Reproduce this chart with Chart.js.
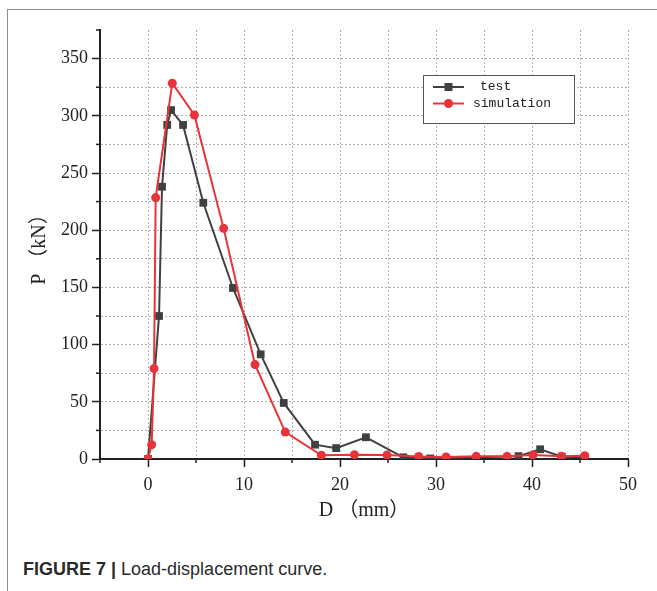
<!DOCTYPE html>
<html>
<head>
<meta charset="utf-8">
<script src="https://cdn.jsdelivr.net/npm/chart.js@4.4.1/dist/chart.umd.min.js"></script>
<style>
  body { margin: 0; background: #fff; }
  #frame {
    position: absolute; left: 7px; top: 9px; width: 660px; height: 600px;
    border-left: 1.5px solid #8c8c8c; border-top: 1.5px solid #8c8c8c;
  }
  #wrap { position: absolute; left: 0; top: 0; width: 657px; height: 545px; }
  #caption {
    position: absolute; left: 23px; top: 559px;
    font: 18px "Liberation Sans", Arial, sans-serif; color: #2a2a2a;
  }
  #caption b { font-weight: bold; }
</style>
</head>
<body>
<div id="frame"></div>
<div id="wrap"><canvas id="chart-load" width="657" height="545"></canvas></div>
<div id="caption"><b>FIGURE 7 |</b> Load-displacement curve.</div>
<script>
// test curve, D (mm) / P (kN)
const testD = [0, 1.15, 1.46, 2.0, 2.4, 3.65, 5.76, 8.85, 11.74, 14.14, 17.4, 19.6, 22.7, 26.6, 29.4, 38.6, 40.85, 43.1, 45.5];
const testP = [0, 125, 238, 292, 305, 292, 224, 149.5, 91.5, 49, 12.5, 9.5, 19, 1.5, 0.5, 2.5, 8.5, 2, 1.5];

// simulation curve
const simD = [0, 0.38, 0.63, 0.8, 2.53, 4.83, 7.88, 11.15, 14.3, 18.06, 21.5, 24.9, 28.2, 31.05, 34.2, 37.4, 40.1, 43.06, 45.5];
const simP = [0, 12.5, 79, 228.5, 328.5, 300.7, 201.6, 82.5, 23.5, 3.3, 3.8, 3.5, 2.2, 1.8, 2.3, 2.3, 3.6, 2.5, 2.8];

const seriesNames = ['test', 'simulation'];
const xLabels = [0, 10, 20, 30, 40, 50];
const yLabels = [0, 50, 100, 150, 200, 250, 300, 350];

const toPoints = (xs, ys) => xs.map((x, i) => ({ x: x, y: ys[i] }));

const tickFont = { family: '"Liberation Serif", "Times New Roman", serif', size: 18 };
const titleFont = { family: '"Liberation Serif", "Noto Sans CJK SC", serif', size: 20 };

// short minor ticks (every 5 mm / 25 kN)
const minorTicks = {
  id: 'minorTicks',
  beforeDatasetsDraw(chart) {
    const ctx = chart.ctx;
    const { x, y } = chart.scales;
    ctx.save();
    ctx.strokeStyle = '#222';
    ctx.lineWidth = 1.5;
    x.ticks.forEach(t => {
      if (xLabels.includes(t.value)) return;
      const px = x.getPixelForValue(t.value);
      ctx.beginPath(); ctx.moveTo(px, y.bottom); ctx.lineTo(px, y.bottom + 4); ctx.stroke();
    });
    y.ticks.forEach(t => {
      if (yLabels.includes(t.value)) return;
      const py = y.getPixelForValue(t.value);
      ctx.beginPath(); ctx.moveTo(x.left, py); ctx.lineTo(x.left - 4, py); ctx.stroke();
    });
    ctx.restore();
  }
};

// boxed legend inside the plot, like the Origin one
const boxLegend = {
  id: 'boxLegend',
  afterDatasetsDraw(chart) {
    const ctx = chart.ctx;
    ctx.save();
    ctx.fillStyle = '#fff';
    ctx.fillRect(423, 75, 151, 48);
    ctx.strokeStyle = '#555';
    ctx.lineWidth = 1;
    ctx.strokeRect(423.5, 75.5, 151, 48);
    ctx.font = '13px "Liberation Mono", "DejaVu Sans Mono", monospace';
    ctx.textBaseline = 'middle';
    chart.data.datasets.forEach((ds, i) => {
      const cy = 87 + i * 16.5;
      ctx.strokeStyle = ds.borderColor;
      ctx.lineWidth = 2;
      ctx.beginPath(); ctx.moveTo(433, cy); ctx.lineTo(464, cy); ctx.stroke();
      ctx.fillStyle = ds.backgroundColor;
      if (ds.pointStyle === 'rect') {
        ctx.fillRect(444.5, cy - 4, 8, 8);
      } else {
        ctx.beginPath(); ctx.arc(448.5, cy, 4.5, 0, Math.PI * 2); ctx.fill();
      }
      ctx.fillStyle = '#222';
      ctx.fillText(ds.label, i === 0 ? 480 : 473, cy);
    });
    ctx.restore();
  }
};

const ctx = document.getElementById('chart-load').getContext('2d');
new Chart(ctx, {
  type: 'line',
  data: {
    datasets: [
      {
        label: seriesNames[0],
        data: toPoints(testD, testP),
        borderColor: '#404040',
        backgroundColor: '#404040',
        borderWidth: 2,
        pointStyle: 'rect',
        pointRadius: 5.5,
        pointBorderWidth: 0,
        order: 1
      },
      {
        label: seriesNames[1],
        data: toPoints(simD, simP),
        borderColor: '#e8333b',
        backgroundColor: '#e8333b',
        borderWidth: 2,
        pointStyle: 'circle',
        pointRadius: 4.5,
        pointBorderWidth: 0,
        order: 0
      }
    ]
  },
  options: {
    responsive: false,
    animation: false,
    layout: { padding: { top: 30, right: 29, left: 0, bottom: 0 } },
    plugins: { legend: { display: false }, tooltip: { enabled: false } },
    scales: {
      x: {
        type: 'linear',
        min: -5, max: 50,
        afterFit: (s) => { s.height = 86; },
        ticks: {
          stepSize: 5,
          autoSkip: false,
          maxRotation: 0,
          padding: 7,
          color: '#222',
          font: tickFont,
          callback: (v) => xLabels.includes(v) ? v : ''
        },
        grid: {
          color: '#b0b0b0',
          lineWidth: 1,
          tickLength: 8,
          tickWidth: 1.5,
          tickColor: (c) => c.tick && xLabels.includes(c.tick.value) ? '#222' : 'transparent'
        },
        border: { color: '#222', width: 2, dash: [2, 2] },
        title: { display: true, text: 'D （mm）', color: '#222', font: titleFont, padding: { top: 0, bottom: 22 } }
      },
      y: {
        min: 0, max: 375,
        afterFit: (s) => { s.width = 100; },
        afterBuildTicks: (s) => { s.ticks = s.ticks.filter(t => t.value % 25 === 0); },
        ticks: {
          stepSize: 25,
          autoSkip: false,
          padding: 4,
          color: '#222',
          font: tickFont,
          callback: (v) => yLabels.includes(v) ? v : ''
        },
        grid: {
          color: (c) => c.tick && c.tick.value === 375 ? 'transparent' : '#b0b0b0',
          lineWidth: 1,
          tickLength: 8,
          tickWidth: 1.5,
          tickColor: (c) => c.tick && yLabels.includes(c.tick.value) ? '#222' : 'transparent'
        },
        border: { color: '#222', width: 2, dash: [2, 2] },
        title: { display: true, text: 'P （kN）', color: '#222', font: titleFont, padding: { top: 28, bottom: 0 } }
      }
    }
  },
  plugins: [minorTicks, boxLegend]
});
</script>
</body>
</html>
